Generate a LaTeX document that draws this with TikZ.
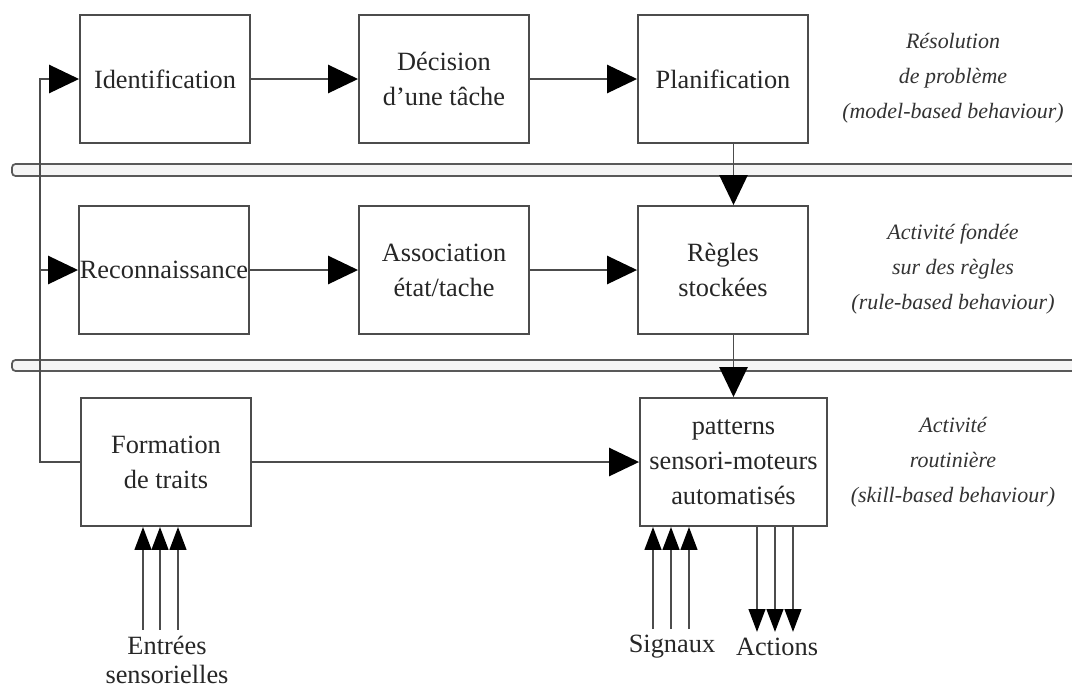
\documentclass[tikz,border=0pt]{standalone}
\usepackage{fontspec}
\setmainfont{Liberation Serif}
\usetikzlibrary{arrows.meta}
\begin{document}
\begin{tikzpicture}[x=0.02cm,y=-0.02cm]
  \tikzset{ boite/.style={draw=black!70,line width=1.1pt,minimum width=3.4cm,minimum height=2.56cm,
      inner sep=0pt,align=center,text=black!85,font=\fontsize{15}{19.8}\selectfont},
    niveau/.style={align=center,text=black!80,font=\fontsize{12.5}{19.8}\selectfont\itshape},
    legende/.style={align=center,text=black!85,font=\fontsize{15}{17}\selectfont},
    fil/.style={draw=black!70,line width=1.1pt},
    fleche/.style={fil,-{Triangle[length=17pt,width=16pt,color=black]}},
    petite/.style={fil,-{Triangle[length=13pt,width=9.5pt,color=black]}},
    bande/.style={draw=black!65,line width=1pt,fill=black!4,rounded corners=2pt},
  }
  \useasboundingbox (0,0) rectangle (1072,691);

  % the borders between the three levels
  \draw[bande] (12,164) rectangle (1090,176);
  \draw[bande] (12,360) rectangle (1090,371);

  \node[boite] (ident) at (165,79) {Identification};
  \node[boite] (decision) at (444,79) {Décision\\d'une tâche};
  \node[boite] (planif) at (723,79) {Planification};
  \node[boite] (recon) at (164,270) {Reconnaissance};
  \node[boite] (assoc) at (444,270) {Association\\état/tache};
  \node[boite] (regles) at (723,270) {Règles\\stockées};
  \node[boite] (formation) at (166,462) {Formation\\de traits};
  \node[boite,minimum width=3.74cm] (patterns) at (733.5,462) {patterns\\sensori-moteurs\\automatisés};

  \node[niveau] (resolution) at (953,78) {Résolution\\de problème\\(model-based behaviour)};
  \node[niveau] (fondee) at (953,269) {Activité fondée\\sur des règles\\(rule-based behaviour)};
  \node[niveau] (routine) at (953,462) {Activité\\routinière\\(skill-based behaviour)};

  \node[legende] (entrees) at (167,660) {Entrées\\sensorielles};
  \node[legende] (signaux) at (672,647) {Signaux};
  \node[legende] (actions) at (777,647) {Actions};

  \draw[fleche] (ident) -- (decision);
  \draw[fleche] (decision) -- (planif);
  \draw[fleche] (recon) -- (assoc);
  \draw[fleche] (assoc) -- (regles);
  \draw[fleche] (formation) -- (patterns);
  \draw[fleche] (planif.south -| patterns.north) -- (regles.north -| patterns.north);
  \draw[fleche] (regles.south -| patterns.north) -- (patterns.north);

  % feedback from the features to the upper levels
  \draw[fleche] (formation.west) -- ++(-0.8cm,0) coordinate (coin) |- (ident.west);
  \draw[fleche] (coin |- recon.west) -- (recon.west);

  \foreach \dx in {-0.48,-0.14,0.22}
    \draw[petite] (entrees.north) ++(\dx cm,0) coordinate (e) -- (e |- formation.south);
  \foreach \dx in {-0.38,-0.02,0.34}
    \draw[petite] (signaux.north) ++(\dx cm,0) coordinate (s) -- (s |- patterns.south);
  \foreach \dx in {-0.4,-0.04,0.32} {
    \path (actions.north) ++(\dx cm,0) coordinate (a);
    \draw[petite] (a |- patterns.south) -- (a);
  }
\end{tikzpicture}
\end{document}
